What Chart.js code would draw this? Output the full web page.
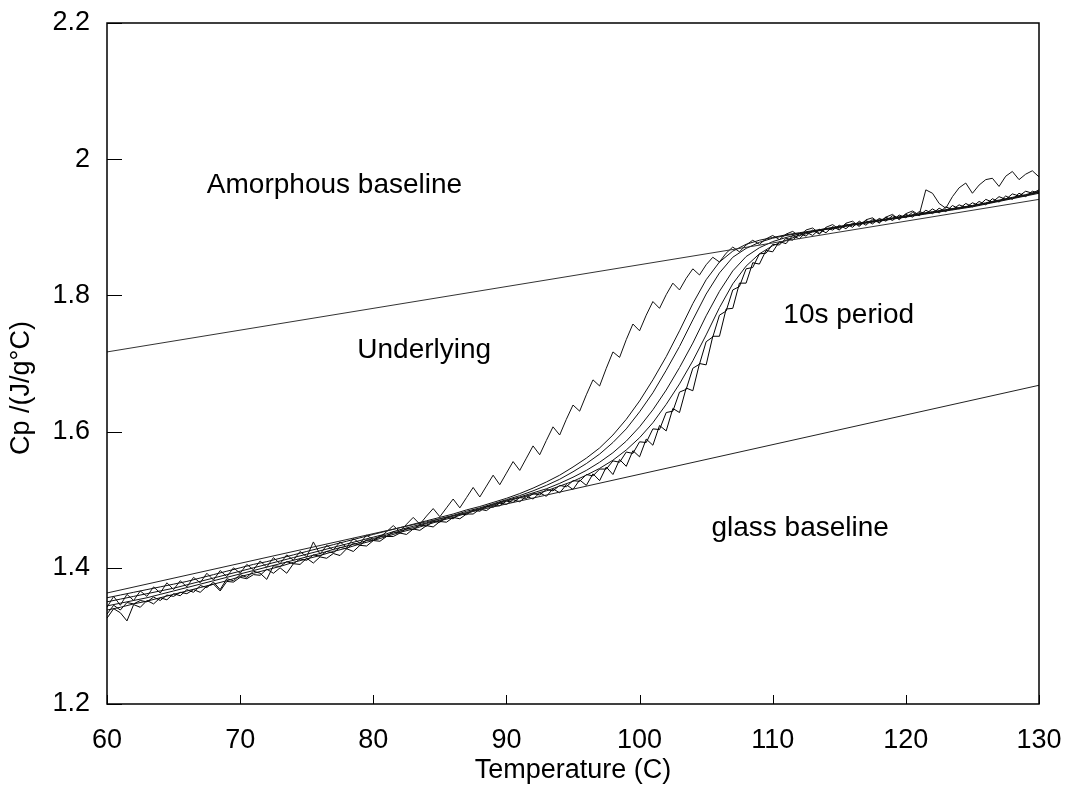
<!DOCTYPE html>
<html><head><meta charset="utf-8">
<script src="https://cdn.jsdelivr.net/npm/chart.js@4.4.1/dist/chart.umd.min.js"></script>
<style>html,body{margin:0;padding:0;background:#fff}#wrap{width:1065px;height:789px}</style>
</head><body><div id="wrap"><canvas id="c" width="1065" height="789"></canvas></div>
<script>
const xTicks = [60,70,80,90,100,110,120,130];
const yTicks = [1.2,1.4,1.6,1.8,2.0,2.2];
const baseTemps = [60,130];
const amorphousBaseline = [1.717,1.941];
const glassBaseline = [1.363,1.668];
const temps1 = [60,61,62,63,64,65,66,67,68,69,70,71,72,73,74,75,76,77,78,79,80,81,82,83,84,85,86,87,88,89,90,91,92,93,94,95,96,97,98,99,100,101,102,103,104,105,106,107,108,109,110,111,112,113,114,115,116,117,118,119,120,121,122,123,124,125,126,127,128,129,130];
const temps2 = [60,60.5,61,61.5,62,62.5,63,63.5,64,64.5,65,65.5,66,66.5,67,67.5,68,68.5,69,69.5,70,70.5,71,71.5,72,72.5,73,73.5,74,74.5,75,75.5,76,76.5,77,77.5,78,78.5,79,79.5,80,80.5,81,81.5,82,82.5,83,83.5,84,84.5,85,85.5,86,86.5,87,87.5,88,88.5,89,89.5,90,90.5,91,91.5,92,92.5,93,93.5,94,94.5,95,95.5,96,96.5,97,97.5,98,98.5,99,99.5,100,100.5,101,101.5,102,102.5,103,103.5,104,104.5,105,105.5,106,106.5,107,107.5,108,108.5,109,109.5,110,110.5,111,111.5,112,112.5,113,113.5,114,114.5,115,115.5,116,116.5,117,117.5,118,118.5,119,119.5,120,120.5,121,121.5,122,122.5,123,123.5,124,124.5,125,125.5,126,126.5,127,127.5,128,128.5,129,129.5,130];
const smooth1 = [1.356,1.360,1.364,1.368,1.372,1.376,1.380,1.385,1.390,1.395,1.400,1.405,1.409,1.414,1.419,1.424,1.429,1.434,1.439,1.444,1.449,1.454,1.459,1.464,1.469,1.474,1.479,1.485,1.490,1.496,
1.502,1.509,1.517,1.526,1.536,1.548,1.561,1.576,1.595,1.618,1.645,1.676,1.710,1.748,1.788,1.823,1.849,1.865,1.875,1.881,1.885,1.889,1.892,
1.895,1.898,1.901,1.904,1.907,1.910,1.913,1.916,1.919,1.922,1.925,1.928,1.931,1.935,1.939,1.943,1.947,1.951];
const smooth2 = [1.350,1.354,1.358,1.362,1.366,1.370,1.375,1.380,1.385,1.390,1.395,1.400,1.405,1.410,1.415,1.420,1.425,1.430,1.435,1.440,1.445,1.450,1.456,1.461,1.466,1.472,1.477,1.483,1.488,1.494,
1.500,1.506,1.513,1.521,1.530,1.541,1.553,1.567,1.584,1.604,1.629,1.657,1.690,1.725,1.764,1.802,1.833,1.856,1.869,1.878,1.884,1.888,1.891,
1.894,1.897,1.900,1.903,1.906,1.909,1.912,1.915,1.918,1.921,1.924,1.927,1.930,1.934,1.938,1.942,1.946,1.950];
const smooth3 = [1.344,1.348,1.352,1.356,1.361,1.366,1.371,1.376,1.381,1.386,1.391,1.396,1.401,1.406,1.411,1.416,1.421,1.427,1.432,1.437,1.443,1.448,1.454,1.459,1.465,1.470,1.476,1.481,1.487,1.493,
1.499,1.504,1.510,1.516,1.524,1.533,1.543,1.555,1.569,1.586,1.607,1.632,1.661,1.694,1.730,1.770,1.806,1.836,1.857,1.870,1.879,1.885,1.890,
1.894,1.898,1.901,1.905,1.908,1.911,1.914,1.917,1.920,1.923,1.926,1.929,1.932,1.936,1.940,1.944,1.948,1.953];
const smooth4 = [1.338,1.342,1.347,1.351,1.356,1.361,1.366,1.371,1.376,1.381,1.387,1.392,1.397,1.402,1.408,1.413,1.418,1.424,1.429,1.435,1.440,1.446,1.452,1.457,1.463,1.469,1.474,1.480,1.486,1.492,
1.498,1.503,1.508,1.513,1.520,1.527,1.536,1.546,1.558,1.573,1.591,1.613,1.640,1.670,1.704,1.742,1.782,1.817,1.843,1.861,1.873,1.881,1.888,
1.893,1.897,1.900,1.904,1.907,1.910,1.913,1.916,1.919,1.922,1.925,1.928,1.932,1.935,1.939,1.943,1.947,1.952];
const noisy1 = [1.332,1.345,1.338,1.349,1.347,1.352,1.350,1.357,1.352,1.360,1.358,1.364,1.362,1.368,1.364,1.373,1.376,1.366,1.380,1.379,
1.386,1.384,1.390,1.389,1.398,1.392,1.400,1.392,1.406,1.405,1.414,1.407,1.416,1.414,1.421,1.418,1.428,1.424,1.433,1.432,
1.440,1.439,1.446,1.446,1.451,1.449,1.457,1.455,1.462,1.460,1.468,1.467,1.474,1.472,1.479,1.479,1.486,1.484,1.491,1.491,
1.498,1.496,1.503,1.502,1.509,1.507,1.515,1.513,1.521,1.519,1.528,1.527,1.537,1.535,1.545,1.545,1.557,1.555,1.570,1.568,
1.585,1.584,1.604,1.603,1.628,1.630,1.658,1.662,1.693,1.699,1.732,1.739,1.771,1.777,1.808,1.813,1.839,1.841,1.861,1.862,
1.875,1.874,1.884,1.881,1.891,1.887,1.896,1.890,1.899,1.896,1.903,1.898,1.906,1.903,1.910,1.905,1.913,1.909,1.917,1.913,
1.919,1.915,1.923,1.920,1.927,1.921,1.930,1.926,1.933,1.929,1.936,1.932,1.941,1.937,1.945,1.941,1.949,1.946,1.953,1.950,
1.955];
const noisy2 = [1.326,1.340,1.334,1.322,1.346,1.342,1.352,1.347,1.356,1.353,1.362,1.359,1.368,1.364,1.374,1.371,1.379,1.368,1.384,1.381,
1.390,1.386,1.395,1.392,1.383,1.403,1.402,1.409,1.406,1.413,1.411,1.419,1.417,1.424,1.422,1.430,1.428,1.436,1.433,1.441,
1.440,1.447,1.446,1.453,1.451,1.458,1.456,1.463,1.461,1.468,1.467,1.474,1.472,1.479,1.478,1.485,1.483,1.490,1.489,1.495,
1.493,1.500,1.497,1.505,1.501,1.510,1.505,1.516,1.510,1.522,1.515,1.529,1.521,1.538,1.528,1.548,1.537,1.559,1.549,1.572,
1.563,1.589,1.580,1.609,1.601,1.634,1.628,1.664,1.660,1.700,1.698,1.740,1.740,1.780,1.781,1.818,1.818,1.848,1.846,1.866,
1.864,1.879,1.876,1.888,1.883,1.893,1.888,1.897,1.892,1.901,1.896,1.905,1.900,1.909,1.903,1.912,1.907,1.915,1.910,1.918,
1.914,1.922,1.917,1.925,1.920,1.928,1.923,1.932,1.927,1.935,1.930,1.938,1.933,1.942,1.937,1.946,1.941,1.950,1.945,1.953,
1.950];
const underlying = [1.342,1.358,1.345,1.361,1.352,1.366,1.358,1.372,1.363,1.378,1.368,1.381,1.372,1.386,1.378,1.392,1.382,1.396,1.387,1.400,
1.392,1.405,1.397,1.410,1.401,1.415,1.406,1.419,1.411,1.424,1.416,1.438,1.420,1.433,1.426,1.438,1.430,1.443,1.436,1.448,
1.441,1.445,1.453,1.462,1.453,1.464,1.474,1.464,1.476,1.487,1.475,1.488,1.501,1.488,1.503,1.518,1.504,1.520,1.536,1.522,
1.539,1.556,1.543,1.561,1.579,1.566,1.587,1.607,1.595,1.618,1.639,1.630,1.654,1.676,1.667,1.693,1.717,1.709,1.735,1.758,
1.748,1.771,1.791,1.781,1.801,1.818,1.808,1.825,1.839,1.830,1.845,1.856,1.849,1.862,1.871,1.864,1.874,1.881,1.875,1.883,
1.888,1.882,1.890,1.894,1.887,1.896,1.899,1.891,1.900,1.904,1.897,1.906,1.909,1.901,1.911,1.914,1.906,1.915,1.919,1.911,
1.920,1.924,1.918,1.955,1.950,1.935,1.928,1.945,1.958,1.965,1.950,1.962,1.970,1.972,1.960,1.975,1.982,1.970,1.978,1.983,
1.974];
const notes = [
  {text:'Amorphous baseline', x:67.5, y:1.962},
  {text:'Underlying', x:78.8, y:1.720},
  {text:'10s period', x:110.8, y:1.771},
  {text:'glass baseline', x:105.4, y:1.458}
];
const yTitle = 'Cp /(J/g°C)';

const FONT = "'Liberation Sans', Arial, Helvetica, sans-serif";
function pts(xs, ys){ return xs.map((t,i)=>({x:t,y:ys[i]})); }
function ds(xs, ys, color, w){ return {data:pts(xs,ys), borderColor:color, borderWidth:w, pointRadius:0, tension:0, fill:false}; }

const datasets = [
  ds(baseTemps, amorphousBaseline, '#333', 1),
  ds(baseTemps, glassBaseline, '#222', 1),
  ds(temps1, smooth1, '#111', 1),
  ds(temps1, smooth2, '#111', 1),
  ds(temps1, smooth3, '#111', 1),
  ds(temps1, smooth4, '#111', 1),
  ds(temps2, noisy1, '#000', 1),
  ds(temps2, noisy2, '#000', 1),
  ds(temps2, underlying, '#111', 1)
];

const framePlugin = {
  id:'frame',
  afterDraw(chart){
    const {ctx, chartArea:{left,right,top,bottom}, scales:{x,y}} = chart;
    ctx.save();
    ctx.strokeStyle = '#000';
    ctx.lineWidth = 1.5;
    ctx.strokeRect(left, top, right-left, bottom-top);
    ctx.lineWidth = 1;
    ctx.beginPath();
    x.ticks.forEach(t=>{ const px = Math.round(x.getPixelForValue(t.value))+0.5; ctx.moveTo(px,bottom); ctx.lineTo(px,bottom-9); });
    y.ticks.forEach(t=>{ const py = Math.round(y.getPixelForValue(t.value))+0.5; ctx.moveTo(left,py); ctx.lineTo(left+15,py); });
    ctx.stroke();
    ctx.fillStyle = '#000';
    ctx.font = '28px ' + FONT;
    ctx.textAlign = 'left';
    ctx.textBaseline = 'middle';
    notes.forEach(n=>{ ctx.fillText(n.text, x.getPixelForValue(n.x), y.getPixelForValue(n.y)); });
    ctx.translate(22, 388);
    ctx.rotate(-Math.PI/2);
    ctx.textAlign = 'center';
    ctx.font = '27px ' + FONT;
    ctx.fillText(yTitle, 0, 0);
    ctx.restore();
  }
};

new Chart(document.getElementById('c'), {
  type:'line',
  data:{datasets},
  options:{
    responsive:false,
    animation:false,
    events:[],
    layout:{padding:{top:23, right:26, left:0, bottom:0}},
    plugins:{legend:{display:false}, tooltip:{enabled:false}},
    scales:{
      x:{
        type:'linear', min:60, max:130,
        afterBuildTicks: s => { s.ticks = xTicks.map(v=>({value:v})); },
        afterFit: s => { s.height = 85; s.paddingLeft = 0; s.paddingRight = 0; },
        grid:{display:false, drawTicks:false},
        border:{display:false},
        ticks:{color:'#000', font:{family:FONT, size:27}, padding:20, maxRotation:0, autoSkip:false},
        title:{display:true, text:'Temperature (C)', color:'#000', font:{family:FONT, size:27}, padding:{top:0,bottom:2}}
      },
      y:{
        type:'linear', min:1.2, max:2.2,
        afterBuildTicks: s => { s.ticks = yTicks.map(v=>({value:v})); },
        afterFit: s => { s.width = 107; s.paddingTop = 0; s.paddingBottom = 0; },
        grid:{display:false, drawTicks:false},
        border:{display:false},
        ticks:{color:'#000', font:{family:FONT, size:27}, padding:17, callback: v => String(Math.round(v*10)/10)},
        title:{display:false}
      }
    }
  },
  plugins:[framePlugin]
});
</script>
</body></html>
